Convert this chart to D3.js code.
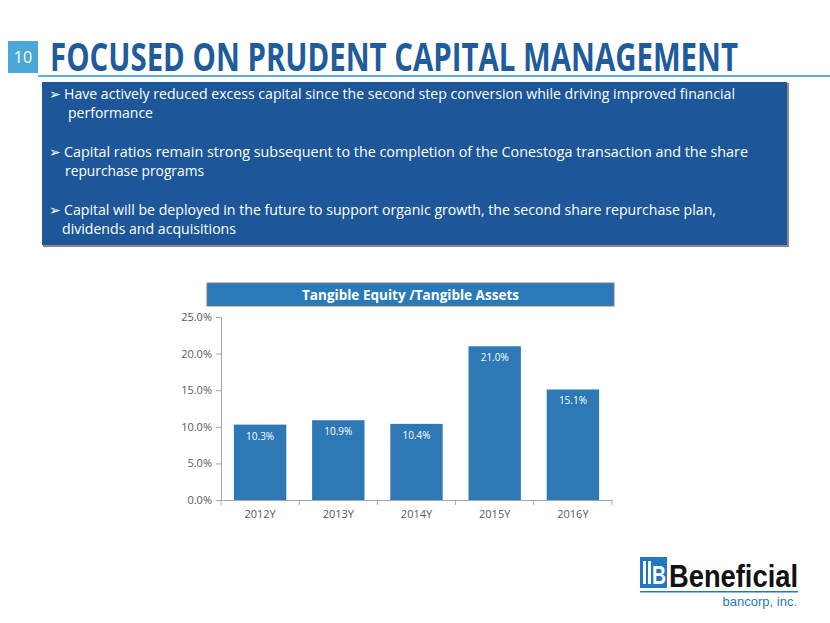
<!DOCTYPE html>
<html>
<head>
<meta charset="utf-8">
<script src="https://cdn.jsdelivr.net/npm/d3@7"></script>
<style>
  body { margin: 0; background: #fff; }
  svg { display: block; font-family: "Open Sans", sans-serif; }
</style>
</head>
<body>
<svg id="slide" width="830" height="623"></svg>
<script>
const years = ["2012Y", "2013Y", "2014Y", "2015Y", "2016Y"];
const ratios = [10.3, 10.9, 10.4, 21.0, 15.1];
const yTicks = [0, 5, 10, 15, 20, 25];
const bullets = [
  ["Have actively reduced excess capital since the second step conversion while driving improved financial", "performance"],
  ["Capital ratios remain strong subsequent to the completion of the Conestoga transaction and the share", "repurchase programs"],
  ["Capital will be deployed in the future to support organic growth, the second share repurchase plan,", "dividends and acquisitions"]
];

const svg = d3.select("#slide");

// header
svg.append("rect").attr("x", 8).attr("y", 41).attr("width", 30).attr("height", 32).attr("fill", "#4aa8d8");
svg.append("text").attr("x", 23).attr("y", 63).attr("text-anchor", "middle")
  .attr("fill", "#fff").attr("font-size", 16).text("10");
svg.append("text").attr("x", 50).attr("y", 71)
  .attr("fill", "#1f5c9c").attr("font-size", 40).attr("font-weight", "bold")
  .attr("textLength", 688).attr("lengthAdjust", "spacingAndGlyphs")
  .text("FOCUSED ON PRUDENT CAPITAL MANAGEMENT");
svg.append("rect").attr("x", 38).attr("y", 75).attr("width", 792).attr("height", 2).attr("fill", "#5aaee0");

// bullet box
svg.append("rect").attr("x", 43).attr("y", 83).attr("width", 746).attr("height", 164).attr("fill", "#8a8a8a");
svg.append("rect").attr("x", 42).attr("y", 82).attr("width", 745).attr("height", 163).attr("fill", "#1d5799");

const lineY = [[99, 118], [157, 176], [215, 234]];
const firstEnd = [735, 748, 716];
const secondX = [68, 65, 62];
const secondEnd = [153, 204, 236];
bullets.forEach((b, i) => {
  svg.append("text").attr("x", 49).attr("y", lineY[i][0]).attr("fill", "#fff").attr("font-size", 14)
    .attr("font-family", "DejaVu Sans, sans-serif").text("\u27A2");
  svg.append("text").attr("x", 64).attr("y", lineY[i][0]).attr("fill", "#fff").attr("font-size", 15)
    .attr("textLength", firstEnd[i] - 64).attr("lengthAdjust", "spacingAndGlyphs").text(b[0]);
  svg.append("text").attr("x", secondX[i]).attr("y", lineY[i][1]).attr("fill", "#fff").attr("font-size", 15)
    .attr("textLength", secondEnd[i] - secondX[i]).attr("lengthAdjust", "spacingAndGlyphs").text(b[1]);
});

// chart title
svg.append("rect").attr("x", 207).attr("y", 283).attr("width", 407).attr("height", 23)
  .attr("fill", "#2a79b8").attr("stroke", "#7f7f7f").attr("stroke-width", 1);
svg.append("text").attr("x", 302).attr("y", 300).attr("fill", "#fff").attr("font-size", 15).attr("font-weight", "bold")
  .attr("textLength", 217).attr("lengthAdjust", "spacingAndGlyphs").text("Tangible Equity /Tangible Assets");

// chart
const x = d3.scaleBand().domain(years).range([221, 612]).paddingInner(0.33).paddingOuter(0.165);
const y = d3.scaleLinear().domain([0, 25]).range([500, 317]);

const yAxis = svg.append("g").attr("transform", "translate(221,0)")
  .call(d3.axisLeft(y).tickValues(yTicks).tickSize(5).tickPadding(4).tickFormat(d => d.toFixed(1) + "%"));
yAxis.select(".domain").attr("stroke", "#a6a6a6");
yAxis.selectAll(".tick line").attr("stroke", "#a6a6a6");
yAxis.selectAll("text").attr("fill", "#595959").attr("font-size", 11).attr("font-family", "Open Sans, sans-serif");

const xAxis = svg.append("g").attr("transform", "translate(0,500)")
  .call(d3.axisBottom(x).tickSize(0).tickPadding(10));
xAxis.select(".domain").attr("stroke", "#a6a6a6");
xAxis.selectAll("text").attr("fill", "#595959").attr("font-size", 11).attr("font-family", "Open Sans, sans-serif");
// tick marks at band boundaries
const step = x.step();
svg.append("g").selectAll("line").data(d3.range(years.length + 1)).join("line")
  .attr("x1", i => 221 + i * step).attr("x2", i => 221 + i * step)
  .attr("y1", 500).attr("y2", 505).attr("stroke", "#a6a6a6");

svg.append("g").selectAll("rect").data(ratios).join("rect")
  .attr("x", (d, i) => x(years[i]))
  .attr("y", d => y(d))
  .attr("width", x.bandwidth())
  .attr("height", d => y(0) - y(d))
  .attr("fill", "#2e79b5");

svg.append("g").selectAll("text").data(ratios).join("text")
  .attr("x", (d, i) => x(years[i]) + x.bandwidth() / 2)
  .attr("y", d => y(d) + 15)
  .attr("text-anchor", "middle")
  .attr("fill", "#fff").attr("font-size", 10)
  .text(d => d.toFixed(1) + "%");

// logo
const logo = svg.append("g").attr("font-family", "Liberation Sans, Arial, sans-serif");
logo.append("rect").attr("x", 640).attr("y", 557).attr("width", 27).attr("height", 31).attr("fill", "#1f78c1");
[643, 648].forEach(lx =>
  logo.append("rect").attr("x", lx).attr("y", 561).attr("width", 3).attr("height", 23).attr("fill", "#fff"));
logo.append("text").attr("x", 652).attr("y", 584).attr("fill", "#fff").attr("font-size", 26)
  .attr("font-weight", "bold").attr("textLength", 14).attr("lengthAdjust", "spacingAndGlyphs").text("B");
logo.append("text").attr("x", 669).attr("y", 587).attr("fill", "#111").attr("font-size", 32)
  .attr("font-weight", "bold").attr("textLength", 129).attr("lengthAdjust", "spacingAndGlyphs").text("Beneficial");
logo.append("rect").attr("x", 640).attr("y", 591).attr("width", 158).attr("height", 1.5).attr("fill", "#1f78c1");
logo.append("text").attr("x", 797).attr("y", 606).attr("text-anchor", "end").attr("fill", "#1f78c1")
  .attr("font-size", 13).text("bancorp, inc.");
</script>
</body>
</html>
